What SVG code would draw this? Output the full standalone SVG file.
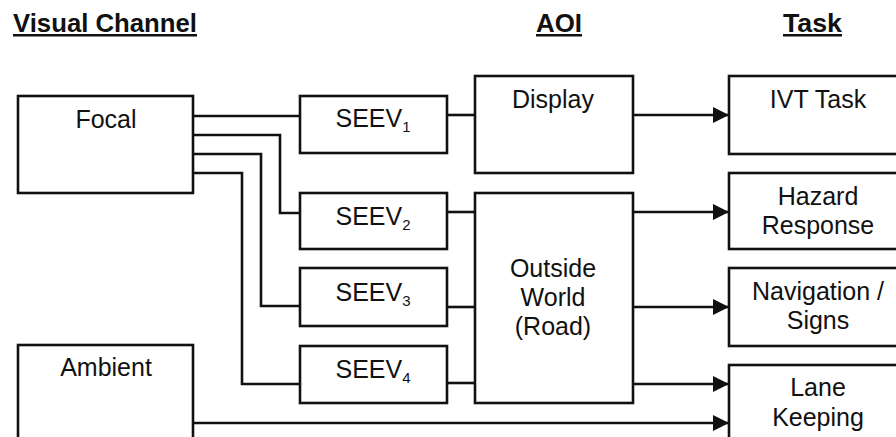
<svg xmlns="http://www.w3.org/2000/svg" width="896" height="437" viewBox="0 0 896 437">
<style>
.box{fill:#fff;stroke:#111;stroke-width:2.6}
.ln{fill:none;stroke:#111;stroke-width:2.6}
.t{font-family:"Liberation Sans",Arial,sans-serif;font-size:25px;fill:#111;text-anchor:middle}
.h{font-family:"Liberation Sans",Arial,sans-serif;font-size:25px;font-weight:bold;fill:#111;text-decoration:underline}
.sub{font-size:15px}
</style>
<defs>
<marker id="ah" markerWidth="16" markerHeight="16" viewBox="0 0 16 16" refX="16" refY="8" orient="auto" markerUnits="userSpaceOnUse">
<path d="M0,0 L16,8 L0,16 Z" fill="#111"/>
</marker>
</defs>
<rect width="896" height="437" fill="#fff"/>
<g id="headers">
<text class="h" x="13" y="32" textLength="184" lengthAdjust="spacingAndGlyphs">Visual Channel</text>
<text class="h" x="536" y="32" textLength="46" lengthAdjust="spacingAndGlyphs">AOI</text>
<text class="h" x="783" y="32" textLength="59" lengthAdjust="spacingAndGlyphs">Task</text>
</g>
<g id="connectors">
<path class="ln" d="M193,116 H300"/>
<path class="ln" d="M193,135 H280 V213 H300"/>
<path class="ln" d="M193,154 H261 V306 H300"/>
<path class="ln" d="M193,173 H242 V384 H300"/>
<path class="ln" d="M447,115 H475"/>
<path class="ln" d="M447,212 H475"/>
<path class="ln" d="M447,307 H475"/>
<path class="ln" d="M447,383 H475"/>
<path class="ln" d="M633,115 H729" marker-end="url(#ah)"/>
<path class="ln" d="M633,212 H729" marker-end="url(#ah)"/>
<path class="ln" d="M633,307 H729" marker-end="url(#ah)"/>
<path class="ln" d="M633,384 H729" marker-end="url(#ah)"/>
<path class="ln" d="M193,423 H729" marker-end="url(#ah)"/>
</g>
<g id="focal">
<rect class="box" x="18" y="96" width="175" height="97"/>
<text class="t" x="106" y="128">Focal</text>
</g>
<g id="ambient">
<rect class="box" x="18" y="345" width="175" height="110"/>
<text class="t" x="106" y="376">Ambient</text>
</g>
<g id="seev1">
<rect class="box" x="300" y="96" width="147" height="57"/>
<text class="t" x="373" y="127">SEEV<tspan class="sub" dy="5">1</tspan></text>
</g>
<g id="seev2">
<rect class="box" x="300" y="193" width="147" height="56"/>
<text class="t" x="373" y="225">SEEV<tspan class="sub" dy="5">2</tspan></text>
</g>
<g id="seev3">
<rect class="box" x="300" y="268" width="147" height="58"/>
<text class="t" x="373" y="301">SEEV<tspan class="sub" dy="5">3</tspan></text>
</g>
<g id="seev4">
<rect class="box" x="300" y="346" width="147" height="57"/>
<text class="t" x="373" y="378">SEEV<tspan class="sub" dy="5">4</tspan></text>
</g>
<g id="display">
<rect class="box" x="475" y="76" width="158" height="97"/>
<text class="t" x="553" y="108">Display</text>
</g>
<g id="outside">
<rect class="box" x="475" y="193" width="158" height="210"/>
<text class="t" x="553" y="277">Outside</text>
<text class="t" x="553" y="306">World</text>
<text class="t" x="553" y="335">(Road)</text>
</g>
<g id="ivt">
<rect class="box" x="729" y="76" width="190" height="78"/>
<text class="t" x="818" y="108">IVT Task</text>
</g>
<g id="hazard">
<rect class="box" x="729" y="173" width="190" height="76"/>
<text class="t" x="818" y="205">Hazard</text>
<text class="t" x="818" y="234">Response</text>
</g>
<g id="navigation">
<rect class="box" x="729" y="268" width="190" height="78"/>
<text class="t" x="818" y="300">Navigation /</text>
<text class="t" x="818" y="329">Signs</text>
</g>
<g id="lane">
<rect class="box" x="729" y="365" width="190" height="90"/>
<text class="t" x="818" y="396">Lane</text>
<text class="t" x="818" y="426">Keeping</text>
</g>
</svg>
